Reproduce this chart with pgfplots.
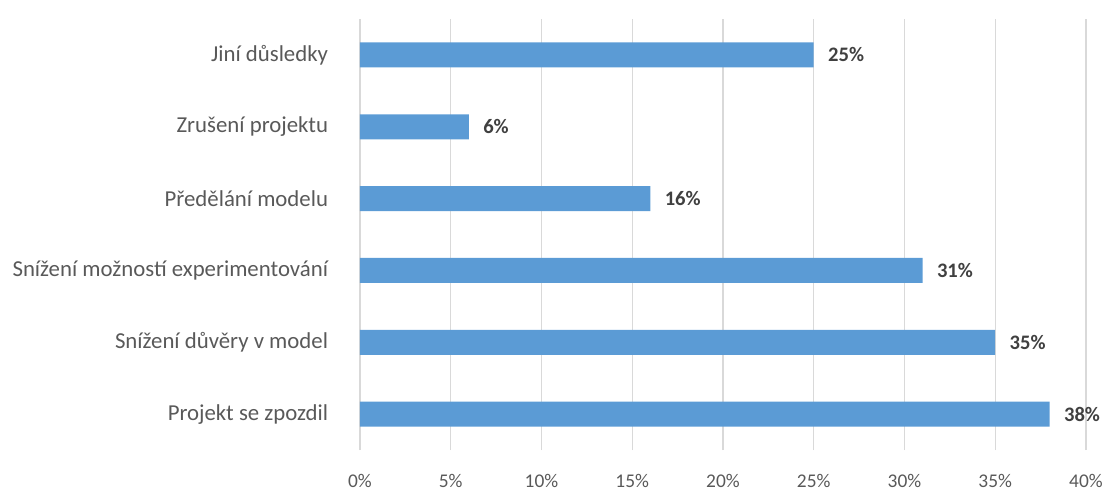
\documentclass[border=0pt]{standalone}
\usepackage{pgfplots}
\pgfplotsset{compat=1.18}
\usepackage{fontspec}
\setmainfont{Carlito}
\definecolor{barblue}{HTML}{5B9BD5}
\definecolor{gridgray}{HTML}{D9D9D9}
\definecolor{labgray}{HTML}{595959}
\definecolor{valgray}{HTML}{404040}
\begin{document}
\begin{tikzpicture}
\useasboundingbox (-180pt,-21pt) rectangle (373.5pt,225pt);
\begin{axis}[
  at={(0,0)}, anchor=south west,
  xbar, bar width=12.5pt,
  scale only axis, width=363pt, height=215.5pt,
  xmin=0, xmax=40, ymin=-0.5, ymax=5.5,
  xtick={0,5,...,40},
  xticklabel={\pgfmathprintnumber{\tick}\%},
  ytick={0,1,2,3,4,5},
  yticklabels={Projekt se zpozdil, Snížení důvěry v model, Snížení možností experimentování, Předělání modelu, Zrušení projektu, Jiní důsledky},
  /pgf/number format/assume math mode=true,
  xmajorgrids, ymajorgrids=false,
  grid style={gridgray, line width=0.6pt},
  axis line style={draw=none},
  tick style={draw=none},
  xticklabel style={font=\fontsize{9.7}{11}\selectfont, text=labgray, anchor=base, yshift=-18.5pt},
  yticklabel style={font=\fontsize{11.4}{14}\selectfont, text=labgray, anchor=east, inner sep=0pt, xshift=-11.5pt},
  nodes near coords={\pgfmathprintnumber{\pgfplotspointmeta}\%},
  every node near coord/.append style={font=\bfseries\fontsize{10.3}{12}\selectfont, text=valgray, anchor=west, inner sep=0pt, xshift=7pt},
  point meta=x,
  clip=false,
]
\addplot[fill=barblue, draw=none] coordinates {(38,0) (35,1) (31,2) (16,3) (6,4) (25,5)};
\end{axis}
\end{tikzpicture}
\end{document}
